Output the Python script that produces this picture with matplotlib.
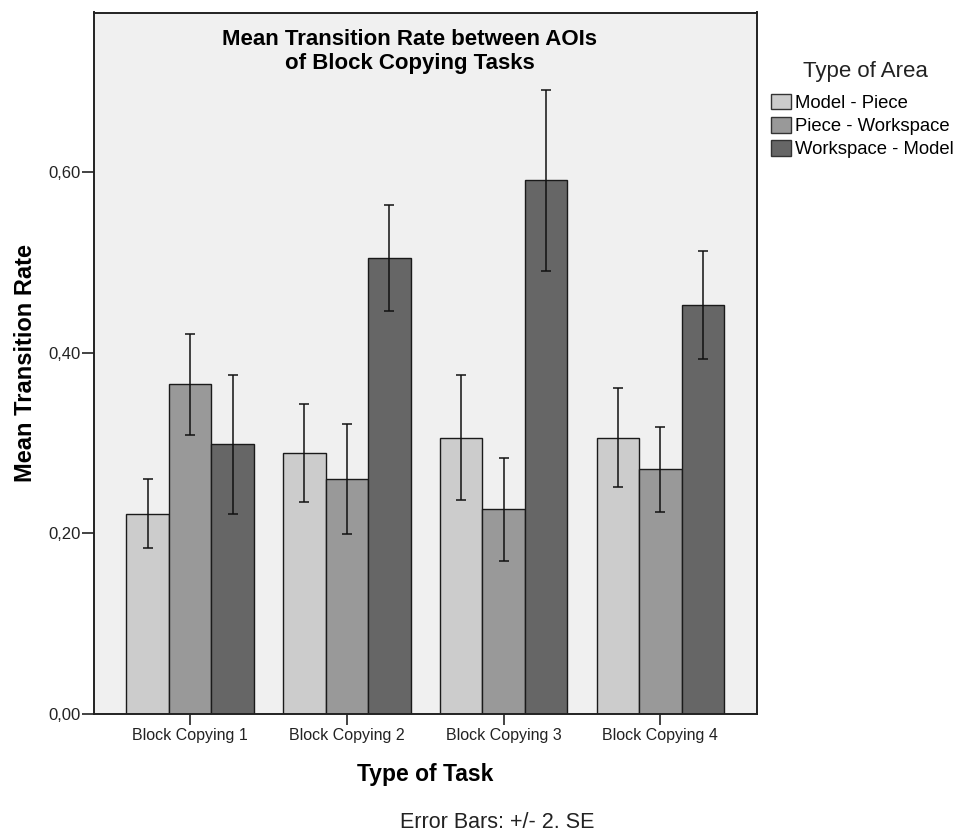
import numpy as np
import matplotlib

matplotlib.use("Agg")
import matplotlib.pyplot as plt
from matplotlib.patches import Patch

plt.rcParams["font.family"] = ["Liberation Sans", "DejaVu Sans"]

tasks = ["Block Copying 1", "Block Copying 2", "Block Copying 3", "Block Copying 4"]
areas = ["Model - Piece", "Piece - Workspace", "Workspace - Model"]
colors = ["#CCCCCC", "#999999", "#666666"]

# mean transition rate per area type, one value per task
model_piece = [0.222, 0.289, 0.306, 0.306]
piece_workspace = [0.365, 0.260, 0.227, 0.271]
workspace_model = [0.299, 0.505, 0.591, 0.453]
means = [model_piece, piece_workspace, workspace_model]

# error bars: +/- 2 SE
err_model_piece = [0.038, 0.054, 0.069, 0.055]
err_piece_workspace = [0.056, 0.061, 0.057, 0.047]
err_workspace_model = [0.077, 0.059, 0.100, 0.060]
errors = [err_model_piece, err_piece_workspace, err_workspace_model]

W, H = 964, 834
fig = plt.figure(figsize=(W / 100, H / 100), dpi=100)
ax = fig.add_axes([94 / W, 120 / H, 663 / W, 701.5 / H])
ax.set_facecolor("#F0F0F0")

x = np.arange(len(tasks))
width = 0.271
for i, (vals, errs, color) in enumerate(zip(means, errors, colors)):
    pos = x + (i - 1) * width
    ax.bar(pos, vals, width=width, color=color, edgecolor="#1a1a1a",
           linewidth=1.0, zorder=2)
    ax.errorbar(pos, vals, yerr=errs, fmt="none", ecolor="#111111",
                elinewidth=1.1, capsize=3.6, capthick=1.1, zorder=3)

ax.set_xlim(-0.613, 3.617)
ax.set_ylim(0, 0.777)
ax.set_yticks([0, 0.2, 0.4, 0.6])
ax.set_yticklabels(["0,00", "0,20", "0,40", "0,60"])
ax.set_xticks(x)
ax.set_xticklabels(tasks)
ax.tick_params(axis="y", length=8.6, width=1.2, labelsize=12, colors="#222222", pad=1)
ax.tick_params(axis="x", length=8, width=1.2, labelsize=11.5, colors="#222222", pad=2)

for spine in ax.spines.values():
    spine.set_linewidth(1.4)
    spine.set_color("#222222")

ax.set_ylabel("Mean Transition Rate", fontsize=17, fontweight="bold", va="center")
ax.yaxis.set_label_coords((26 - 94) / 663, 0.5)
ax.set_xlabel("Type of Task", fontsize=16.5, fontweight="bold", va="center")
ax.xaxis.set_label_coords(0.5, -(774 - 714) / 701.5)

fig.text(410 / W, 1 - 51.5 / H, "Mean Transition Rate between AOIs\nof Block Copying Tasks",
         ha="center", va="center", fontsize=16, fontweight="bold", linespacing=1.15)

# legend block on the right
fig.text(865 / W, 1 - 71 / H, "Type of Area", ha="center", va="center",
         fontsize=16, color="#222222")
handles = [Patch(facecolor=c, edgecolor="#333333", linewidth=1.0) for c in colors]
fig.legend(handles, areas, loc="upper left", bbox_to_anchor=(771 / W, 1 - 94 / H),
           fontsize=13.3, frameon=False, handlelength=1.1, handleheight=0.9,
           handletextpad=0.22, labelspacing=0.28, borderaxespad=0, borderpad=0)

fig.text(497 / W, 1 - 822 / H, "Error Bars: +/- 2. SE", ha="center", va="center",
         fontsize=15.5, color="#222222")

fig.savefig("out.png", dpi=100, facecolor="white")
